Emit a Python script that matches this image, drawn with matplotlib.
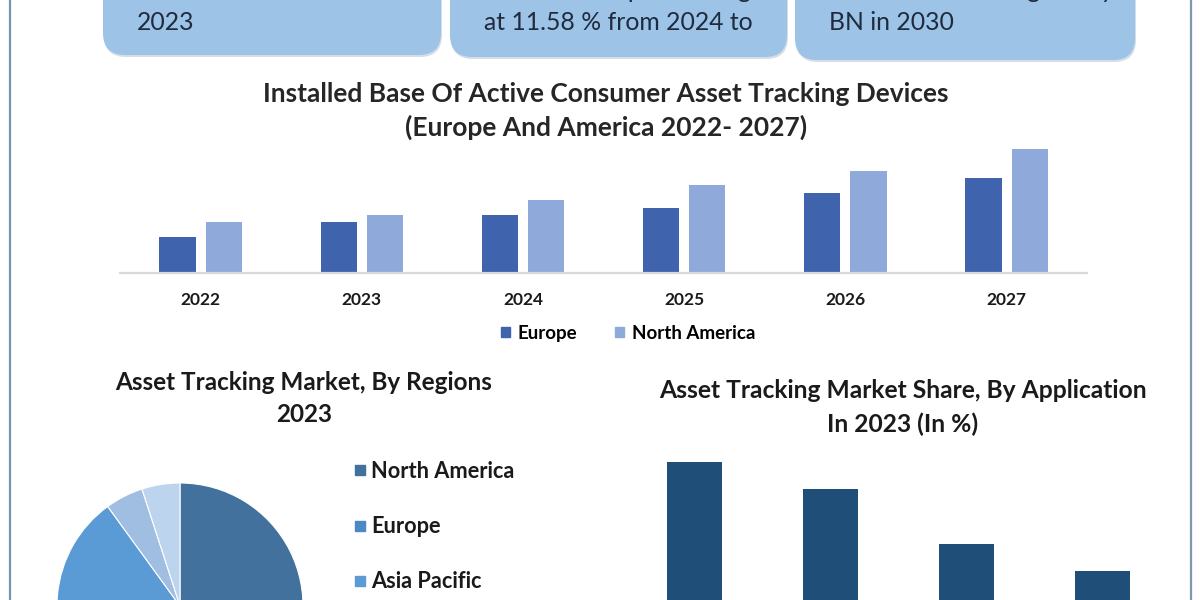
import numpy as np
import matplotlib
matplotlib.use('Agg')
import matplotlib.pyplot as plt
from matplotlib.patches import FancyBboxPatch, Rectangle, Patch

plt.rcParams['font.family'] = ['Lato', 'DejaVu Sans']

# installed base of active consumer asset tracking devices (estimated, mn units)
years = ['2022', '2023', '2024', '2025', '2026', '2027']
europe = [3.6, 5.1, 5.8, 6.5, 8.0, 9.5]
north_america = [5.1, 5.8, 7.3, 8.8, 10.2, 12.4]

# market by regions 2023 (%)
regions = ['North America', 'Europe', 'Asia Pacific', 'Middle East & Africa', 'South America']
region_share = [35, 28, 27, 5, 5]
region_colors = ['#41719C', '#4A89C6', '#5B9BD5', '#9FBEE2', '#BDD4EE']

# market share by application 2023 (%)
app_share = [33.3, 29.2, 20.8, 16.7]

# header boxes (text lines, partly cut off by the crop)
box_top_lines = ['Market size was valued in', 'revenue is expected to grow', 'revenue is reaching nearly']
box_lines = ['2023', 'at 11.58 % from 2024 to', 'BN in 2030']

fig = plt.figure(figsize=(12, 6), dpi=100)

# background layer in pixel coordinates
bg = fig.add_axes([0, 0, 1, 1])
bg.set_xlim(0, 1200)
bg.set_ylim(600, 0)
bg.axis('off')
bg.plot([9.5, 9.5], [0, 600], color='#7395AE', lw=1.6)
bg.plot([1191, 1191], [0, 600], color='#7D9AAA', lw=1.6)

boxes = [(103, 441, 55), (450, 787, 57), (795, 1135, 60)]
for (x0, x1, yb), t1, t2 in zip(boxes, box_top_lines, box_lines):
    bg.add_patch(FancyBboxPatch((x0 + 1, -40), x1 - x0, yb + 42,
                                boxstyle='round,pad=0,rounding_size=22',
                                fc='#D5DDE6', ec='none'))
    bg.add_patch(FancyBboxPatch((x0, -40), x1 - x0, yb + 40,
                                boxstyle='round,pad=0,rounding_size=22',
                                fc='#9DC3E6', ec='none'))
    bg.text(x0 + 34, -10, t1, fontsize=17.8, color='#1F2B3F', va='center')
    bg.text(x0 + 34, 23, t2, fontsize=17.8, color='#1F2B3F', va='center')

# main grouped bar chart
ax = fig.add_axes([0.1, 0.545, 0.806, 0.2217])
x = np.arange(len(years))
ax.bar(x - 0.143, europe, 0.224, color='#3F63AD')
ax.bar(x + 0.143, north_america, 0.224, color='#8FA9DB')
ax.set_xlim(-0.5, 5.5)
ax.set_ylim(0, 13.3)
for s in ['top', 'left', 'right']:
    ax.spines[s].set_visible(False)
ax.spines['bottom'].set_color('#D9D9D9')
ax.spines['bottom'].set_linewidth(1.6)
ax.set_yticks([])
ax.set_xticks(x)
ax.set_xticklabels(years, fontsize=12.5, fontweight='bold', color='#1A1A1A')
ax.tick_params(axis='x', length=0, pad=14)
ax.legend([Patch(color='#3F63AD'), Patch(color='#8FA9DB')], ['Europe', 'North America'],
          loc='center', bbox_to_anchor=(628 / 1200, 1 - 333 / 600), bbox_transform=fig.transFigure,
          ncol=2, frameon=False, handlelength=0.5, handleheight=0.5, handletextpad=0.4,
          columnspacing=2.0, prop={'weight': 'bold', 'size': 13.5})

fig.text(606 / 1200, 1 - 94 / 600, 'Installed Base Of Active Consumer Asset Tracking Devices',
         ha='center', va='center', fontsize=19, fontweight='bold', color='#262626')
fig.text(606 / 1200, 1 - 127 / 600, '(Europe And America 2022- 2027)',
         ha='center', va='center', fontsize=19, fontweight='bold', color='#262626')

# pie chart (cut off at the bottom)
fig.text(304 / 1200, 1 - 383 / 600, 'Asset Tracking Market, By Regions',
         ha='center', va='center', fontsize=17.5, fontweight='bold', color='#1A1A1A')
fig.text(304 / 1200, 1 - 415 / 600, '2023',
         ha='center', va='center', fontsize=17.5, fontweight='bold', color='#1A1A1A')
pax = fig.add_axes([57 / 1200, 1 - 729 / 600, 246 / 1200, 246 / 600])
pax.pie(region_share, colors=region_colors, startangle=90, counterclock=False,
        wedgeprops={'linewidth': 0.8, 'edgecolor': 'white'})
pax.set_xlim(-1, 1)
pax.set_ylim(-1, 1)
for i, (lab, col) in enumerate(zip(regions, region_colors)):
    yy = 470 + i * 55.5
    bg.add_patch(Rectangle((355, yy - 5), 10, 10, color=col))
    bg.text(371, yy + 1, lab, fontsize=15.7, fontweight='bold', color='#1A1A1A', va='center')

# application bar chart (cut off at the bottom)
fig.text(903 / 1200, 1 - 391 / 600, 'Asset Tracking Market Share, By Application',
         ha='center', va='center', fontsize=17.7, fontweight='bold', color='#1A1A1A')
fig.text(903 / 1200, 1 - 424 / 600, 'In 2023 (In %)',
         ha='center', va='center', fontsize=17.7, fontweight='bold', color='#1A1A1A')
bax = fig.add_axes([626.5 / 1200, 1 - 680 / 600, 544 / 1200, 230 / 600])
bax.bar(np.arange(len(app_share)), app_share, 0.404, color='#1F4E79')
bax.set_xlim(-0.5, 3.5)
bax.set_ylim(0, 35.17)
bax.axis('off')

fig.savefig('out.png', dpi=100)
